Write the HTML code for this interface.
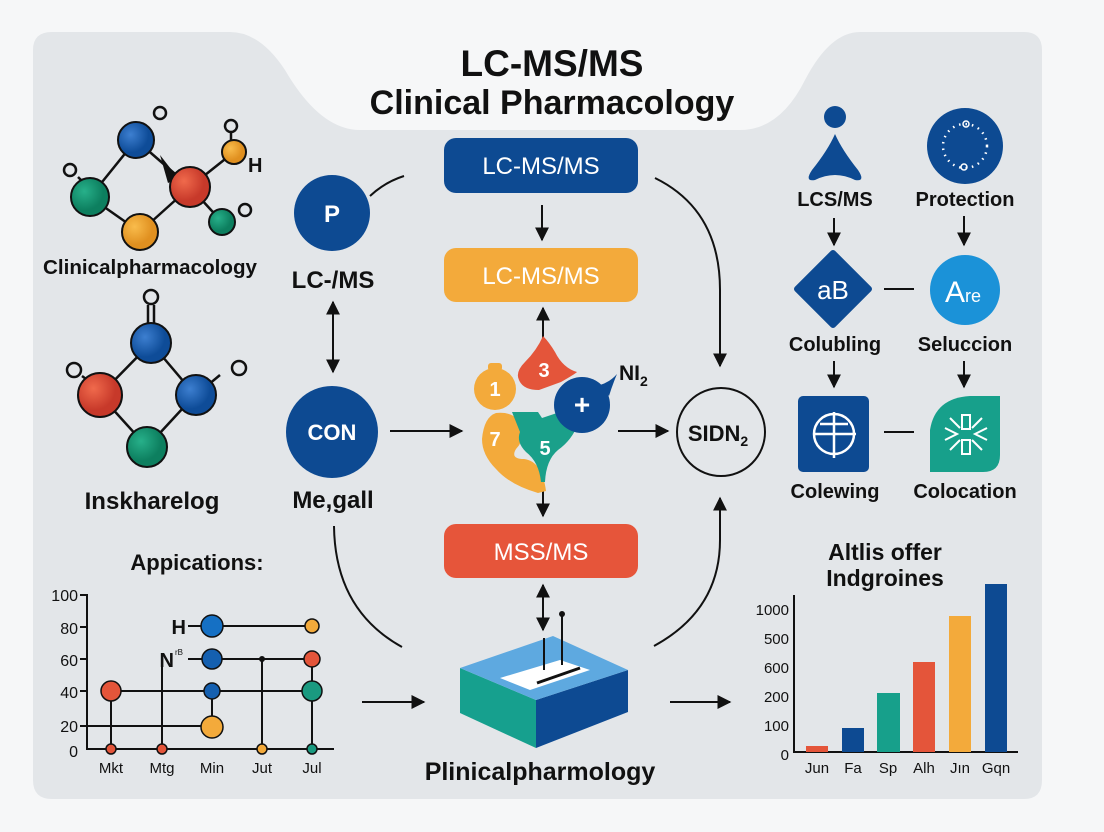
<!DOCTYPE html>
<html><head><meta charset="utf-8"><style>
html,body{margin:0;padding:0;background:#f6f7f8}
svg{display:block}
text{font-family:"Liberation Sans",sans-serif;fill:#111}
.b{font-weight:bold}
</style></head><body>
<svg width="1104" height="832" viewBox="0 0 1104 832" xmlns="http://www.w3.org/2000/svg">
<defs>
<marker id="a" viewBox="0 0 10 10" refX="9" refY="5" markerWidth="7" markerHeight="7" orient="auto-start-reverse"><path d="M0,0L10,5L0,10z" fill="#111"/></marker>
<radialGradient id="gb" cx="35%" cy="35%"><stop offset="0" stop-color="#3d7fd0"/><stop offset="1" stop-color="#0e4c98"/></radialGradient>
<radialGradient id="gr" cx="35%" cy="35%"><stop offset="0" stop-color="#f06a4c"/><stop offset="1" stop-color="#c7392a"/></radialGradient>
<radialGradient id="gg" cx="35%" cy="35%"><stop offset="0" stop-color="#27b08a"/><stop offset="1" stop-color="#0d7f5f"/></radialGradient>
<radialGradient id="go" cx="35%" cy="35%"><stop offset="0" stop-color="#f9bc4c"/><stop offset="1" stop-color="#e09020"/></radialGradient>
</defs>
<rect width="1104" height="832" fill="#f6f7f8"/>
<path d="M33,50 Q33,32 52,32 L230,32 Q260,32 285,70 Q320,130 360,130 L740,130 Q780,130 805,80 Q830,32 860,32 L1024,32 Q1042,32 1042,50 L1042,780 Q1042,799 1024,799 L52,799 Q33,799 33,780 Z" fill="#e3e6e9"/>
<text x="552" y="76" text-anchor="middle" class="b" font-size="37">LC-MS/MS</text>
<text x="552" y="114" text-anchor="middle" class="b" font-size="34">Clinical Pharmacology</text>

<!-- molecule 1 -->
<g stroke="#111" stroke-width="2.5" fill="none">
<line x1="136" y1="140" x2="190" y2="187"/><line x1="136" y1="140" x2="90" y2="197"/><line x1="90" y1="197" x2="140" y2="232"/><line x1="140" y1="232" x2="190" y2="187"/><line x1="190" y1="187" x2="234" y2="152"/><line x1="190" y1="187" x2="222" y2="222"/><line x1="231" y1="132" x2="231" y2="146"/><line x1="78" y1="177" x2="88" y2="187"/>
<circle cx="160" cy="113" r="6"/><circle cx="231" cy="126" r="6"/><circle cx="70" cy="170" r="6"/><circle cx="245" cy="210" r="6"/>
</g>
<polygon points="160,155 178,178 168,183" fill="#111"/>
<circle cx="136" cy="140" r="18" fill="url(#gb)" stroke="#111" stroke-width="2"/>
<circle cx="234" cy="152" r="12" fill="url(#go)" stroke="#111" stroke-width="2"/>
<circle cx="190" cy="187" r="20" fill="url(#gr)" stroke="#111" stroke-width="2"/>
<circle cx="90" cy="197" r="19" fill="url(#gg)" stroke="#111" stroke-width="2"/>
<circle cx="140" cy="232" r="18" fill="url(#go)" stroke="#111" stroke-width="2"/>
<circle cx="222" cy="222" r="13" fill="url(#gg)" stroke="#111" stroke-width="2"/>
<text x="248" y="172" class="b" font-size="20">H</text>
<text x="150" y="274" text-anchor="middle" font-size="20" font-weight="bold" textLength="214" lengthAdjust="spacingAndGlyphs">Clinicalpharmacology</text>

<!-- molecule 2 -->
<g stroke="#111" stroke-width="2.5" fill="none">
<line x1="148" y1="305" x2="148" y2="325"/><line x1="154" y1="305" x2="154" y2="325"/>
<line x1="151" y1="343" x2="100" y2="395"/><line x1="151" y1="343" x2="195" y2="395"/><line x1="100" y1="395" x2="147" y2="447"/><line x1="195" y1="395" x2="147" y2="447"/>
<line x1="82" y1="376" x2="94" y2="385"/><line x1="220" y1="375" x2="208" y2="385"/>
<circle cx="151" cy="297" r="7"/><circle cx="74" cy="370" r="7"/><circle cx="239" cy="368" r="7"/>
</g>
<circle cx="151" cy="343" r="20" fill="url(#gb)" stroke="#111" stroke-width="2"/>
<circle cx="100" cy="395" r="22" fill="url(#gr)" stroke="#111" stroke-width="2"/>
<circle cx="196" cy="395" r="20" fill="url(#gb)" stroke="#111" stroke-width="2"/>
<circle cx="147" cy="447" r="20" fill="url(#gg)" stroke="#111" stroke-width="2"/>
<text x="152" y="509" text-anchor="middle" font-size="24" font-weight="bold">Inskharelog</text>

<!-- P / CON -->
<circle cx="332" cy="213" r="38" fill="#0d4a92"/>
<text x="332" y="222" text-anchor="middle" style="fill:#fff" class="b" font-size="24">P</text>
<path d="M370,196 Q385,182 404,176" stroke="#111" stroke-width="2" fill="none"/>
<text x="333" y="288" text-anchor="middle" font-size="24" font-weight="bold">LC-/MS</text>
<line x1="333" y1="302" x2="333" y2="372" stroke="#111" stroke-width="2" marker-start="url(#a)" marker-end="url(#a)"/>
<circle cx="332" cy="432" r="46" fill="#0d4a92"/>
<text x="332" y="440" text-anchor="middle" style="fill:#fff" class="b" font-size="22">CON</text>
<text x="333" y="508" text-anchor="middle" font-size="24" font-weight="bold">Me,gall</text>
<line x1="390" y1="431" x2="462" y2="431" stroke="#111" stroke-width="2" marker-end="url(#a)"/>

<!-- center boxes -->
<rect x="444" y="138" width="194" height="55" rx="12" fill="#0d4a92"/>
<text x="541" y="174" text-anchor="middle" style="fill:#fff" font-size="24">LC-MS/MS</text>
<line x1="542" y1="205" x2="542" y2="240" stroke="#111" stroke-width="2" marker-end="url(#a)"/>
<rect x="444" y="248" width="194" height="54" rx="12" fill="#f3aa3b"/>
<text x="541" y="284" text-anchor="middle" style="fill:#fff" font-size="24">LC-MS/MS</text>
<line x1="543" y1="338" x2="543" y2="308" stroke="#111" stroke-width="2" marker-end="url(#a)"/>
<line x1="543" y1="490" x2="543" y2="516" stroke="#111" stroke-width="2" marker-end="url(#a)"/>
<rect x="444" y="524" width="194" height="54" rx="12" fill="#e6553a"/>
<text x="541" y="560" text-anchor="middle" style="fill:#fff" font-size="24">MSS/MS</text>
<line x1="543" y1="585" x2="543" y2="630" stroke="#111" stroke-width="2" marker-start="url(#a)" marker-end="url(#a)"/>

<!-- puzzle shapes -->
<circle cx="495" cy="389" r="21" fill="#f3aa3b"/>
<rect x="488" y="363" width="14" height="8" rx="3" fill="#f3aa3b"/>
<path d="M496,413 q22,-2 26,16 q2,12 -6,20 q-6,10 8,10 q18,2 22,32 l-8,2 q-28,-8 -42,-24 q-14,-14 -14,-30 q2,-22 14,-26z" fill="#f3aa3b"/>
<path d="M543,336 q-6,14 -18,26 q-10,10 -6,18 q4,10 20,10 l22,-8 q14,-8 16,-10 q-14,-4 -22,-20 q-6,-10 -12,-16z" fill="#e4553a"/>
<path d="M512,412 l26,0 l4,6 l18,-6 q20,0 18,12 q-6,16 -20,26 q-12,10 -13,32 l-4,0 q-2,-20 -15,-30 q-10,-10 -6,-20z" fill="#1aa08a"/>
<circle cx="582" cy="405" r="28" fill="#0d4a92"/>
<path d="M600,385 q10,-3 17,-11 q-5,12 -8,22z" fill="#0d4a92"/>
<text x="495" y="396" text-anchor="middle" style="fill:#fff" class="b" font-size="20">1</text>
<text x="544" y="377" text-anchor="middle" style="fill:#fff" class="b" font-size="20">3</text>
<text x="495" y="446" text-anchor="middle" style="fill:#fff" class="b" font-size="20">7</text>
<text x="545" y="455" text-anchor="middle" style="fill:#fff" class="b" font-size="20">5</text>
<text x="582" y="414" text-anchor="middle" style="fill:#fff" class="b" font-size="28">+</text>
<text x="619" y="380" class="b" font-size="21">NI<tspan font-size="14" dy="6">2</tspan></text>
<line x1="618" y1="431" x2="668" y2="431" stroke="#111" stroke-width="2" marker-end="url(#a)"/>
<circle cx="721" cy="432" r="44" fill="none" stroke="#111" stroke-width="2"/>
<text x="718" y="441" text-anchor="middle" font-size="22" font-weight="bold">SIDN<tspan font-size="14" dy="5">2</tspan></text>

<!-- curves -->
<path d="M655,178 Q720,210 720,290 L720,366" stroke="#111" stroke-width="2" fill="none" marker-end="url(#a)"/>
<path d="M654,646 Q720,610 720,540 L720,498" stroke="#111" stroke-width="2" fill="none" marker-end="url(#a)"/>
<path d="M334,526 Q335,610 402,647" stroke="#111" stroke-width="2" fill="none"/>

<!-- isometric box -->
<polygon points="460,668 460,713 536,748 536,700" fill="#16a08e"/>
<polygon points="536,700 536,748 628,712 628,670" fill="#0d4a92"/>
<polygon points="460,668 553,636 628,670 536,700" fill="#5ea9e0"/>
<polygon points="500,678 560,660 590,670 530,690" fill="#fff"/>
<line x1="537" y1="683" x2="580" y2="668" stroke="#111" stroke-width="3"/>
<line x1="544" y1="638" x2="544" y2="670" stroke="#111" stroke-width="2"/>
<line x1="562" y1="614" x2="562" y2="665" stroke="#111" stroke-width="2"/>
<circle cx="562" cy="614" r="3" fill="#111"/>
<text x="540" y="780" text-anchor="middle" class="b" font-size="25">Plinicalpharmology</text>
<line x1="362" y1="702" x2="424" y2="702" stroke="#111" stroke-width="2" marker-end="url(#a)"/>
<line x1="670" y1="702" x2="730" y2="702" stroke="#111" stroke-width="2" marker-end="url(#a)"/>

<!-- left chart -->
<text x="197" y="570" text-anchor="middle" class="b" font-size="22">Appications:</text>
<g font-size="16" text-anchor="end">
<text x="78" y="601">100</text><text x="78" y="634">80</text><text x="78" y="666">60</text><text x="78" y="698">40</text><text x="78" y="732">20</text><text x="78" y="757">0</text>
</g>
<g stroke="#111" stroke-width="2" fill="none">
<path d="M80,595 H87 V749 H334"/>
<line x1="80" y1="627" x2="87" y2="627"/><line x1="80" y1="659" x2="87" y2="659"/><line x1="80" y1="691" x2="87" y2="691"/><line x1="80" y1="726" x2="212" y2="726"/>
<line x1="188" y1="626" x2="312" y2="626"/><line x1="188" y1="659" x2="312" y2="659"/>
<line x1="111" y1="691" x2="312" y2="691"/>
<line x1="111" y1="691" x2="111" y2="749"/><line x1="162" y1="660" x2="162" y2="749"/><line x1="212" y1="691" x2="212" y2="726"/><line x1="262" y1="659" x2="262" y2="749"/><line x1="312" y1="659" x2="312" y2="749"/>
</g>
<g stroke="#111" stroke-width="1.5">
<circle cx="212" cy="626" r="11" fill="#1570c4"/><circle cx="312" cy="626" r="7" fill="#f3aa3b"/>
<circle cx="212" cy="659" r="10" fill="#1560b0"/><circle cx="312" cy="659" r="8" fill="#e4553a"/>
<circle cx="111" cy="691" r="10" fill="#e4553a"/><circle cx="212" cy="691" r="8" fill="#1560b0"/><circle cx="312" cy="691" r="10" fill="#1a9a80"/>
<circle cx="212" cy="727" r="11" fill="#f3aa3b"/>
<circle cx="111" cy="749" r="5" fill="#e4553a"/><circle cx="162" cy="749" r="5" fill="#e4553a"/><circle cx="262" cy="749" r="5" fill="#f3aa3b"/><circle cx="312" cy="749" r="5" fill="#1a9a80"/>
</g>
<circle cx="262" cy="659" r="3" fill="#111"/>
<text x="186" y="634" text-anchor="end" class="b" font-size="20">H</text>
<text x="174" y="667" text-anchor="end" class="b" font-size="20">N</text>
<text x="175" y="655" font-size="8">rB</text>
<g font-size="15" text-anchor="middle"><text x="111" y="773">Mkt</text><text x="162" y="773">Mtg</text><text x="212" y="773">Min</text><text x="262" y="773">Jut</text><text x="312" y="773">Jul</text></g>

<!-- right network -->
<circle cx="835" cy="117" r="11" fill="#0d4a92"/>
<path d="M835,134 Q828,150 812,170 Q804,182 815,180 Q835,170 855,180 Q866,182 858,170 Q842,150 835,134z" fill="#0d4a92"/>
<text x="835" y="206" text-anchor="middle" font-size="20" font-weight="bold">LCS/MS</text>
<circle cx="965" cy="146" r="38" fill="#0d4a92"/>
<circle cx="965" cy="146" r="22" fill="none" stroke="#fff" stroke-width="2.5" stroke-dasharray="1.5 5"/>
<circle cx="966" cy="124" r="3" fill="none" stroke="#fff" stroke-width="1.5"/><circle cx="964" cy="167" r="3" fill="none" stroke="#fff" stroke-width="1.5"/>
<text x="965" y="206" text-anchor="middle" class="b" font-size="20">Protection</text>
<line x1="834" y1="218" x2="834" y2="245" stroke="#111" stroke-width="2" marker-end="url(#a)"/>
<line x1="964" y1="216" x2="964" y2="245" stroke="#111" stroke-width="2" marker-end="url(#a)"/>
<polygon points="833,253 869,289 833,325 797,289" fill="#0d4a92" stroke="#0d4a92" stroke-width="6" stroke-linejoin="round"/>
<text x="833" y="299" text-anchor="middle" style="fill:#fff" font-size="26">aB</text>
<line x1="884" y1="289" x2="914" y2="289" stroke="#111" stroke-width="2"/>
<circle cx="965" cy="290" r="35" fill="#1b92d8"/>
<text x="963" y="302" text-anchor="middle" style="fill:#fff" font-size="30">A<tspan font-size="18">re</tspan></text>
<text x="835" y="351" text-anchor="middle" font-size="20" font-weight="bold">Colubling</text>
<text x="965" y="351" text-anchor="middle" class="b" font-size="20">Seluccion</text>
<line x1="834" y1="361" x2="834" y2="387" stroke="#111" stroke-width="2" marker-end="url(#a)"/>
<line x1="964" y1="361" x2="964" y2="387" stroke="#111" stroke-width="2" marker-end="url(#a)"/>
<rect x="798" y="396" width="71" height="76" rx="5" fill="#0d4a92"/>
<g stroke="#fff" stroke-width="2.5" fill="none"><circle cx="834" cy="434" r="20"/><line x1="814" y1="434" x2="856" y2="434"/><line x1="834" y1="412" x2="834" y2="458"/><line x1="820" y1="424" x2="848" y2="424"/></g>
<line x1="884" y1="432" x2="914" y2="432" stroke="#111" stroke-width="2"/>
<path d="M930,472 L930,430 Q935,398 970,396 L1000,396 L1000,455 Q1000,472 983,472z" fill="#17a08b"/>
<g stroke="#fff" stroke-width="2" fill="none"><path d="M962,415 h8 v14 h-8z"/><path d="M962,440 h8 v14 h-8z"/><path d="M945,428 l12,6 l-12,6"/><path d="M987,428 l-12,6 l12,6"/><path d="M950,418 l10,10 M982,418 l-10,10 M950,450 l10,-10 M982,450 l-10,-10"/></g>
<text x="835" y="498" text-anchor="middle" font-size="20" font-weight="bold">Colewing</text>
<text x="965" y="498" text-anchor="middle" class="b" font-size="20">Colocation</text>

<!-- bar chart -->
<text x="885" y="560" text-anchor="middle" class="b" font-size="23">Altlis offer</text>
<text x="885" y="586" text-anchor="middle" class="b" font-size="23">Indgroines</text>
<g font-size="15" text-anchor="end"><text x="789" y="615">1000</text><text x="789" y="644">500</text><text x="789" y="673">600</text><text x="789" y="702">200</text><text x="789" y="731">100</text><text x="789" y="760">0</text></g>
<path d="M794,595 V752 H1018" stroke="#111" stroke-width="2" fill="none"/>
<rect x="806" y="746" width="22" height="6" fill="#e4553a"/>
<rect x="842" y="728" width="22" height="24" fill="#0d4a92"/>
<rect x="877" y="693" width="23" height="59" fill="#17a08b"/>
<rect x="913" y="662" width="22" height="90" fill="#e4553a"/>
<rect x="949" y="616" width="22" height="136" fill="#f3aa3b"/>
<rect x="985" y="584" width="22" height="168" fill="#0d4a92"/>
<g font-size="15" text-anchor="middle"><text x="817" y="773">Jun</text><text x="853" y="773">Fa</text><text x="888" y="773">Sp</text><text x="924" y="773">Alh</text><text x="960" y="773">Jın</text><text x="996" y="773">Gqn</text></g>
</svg>
</body></html>
